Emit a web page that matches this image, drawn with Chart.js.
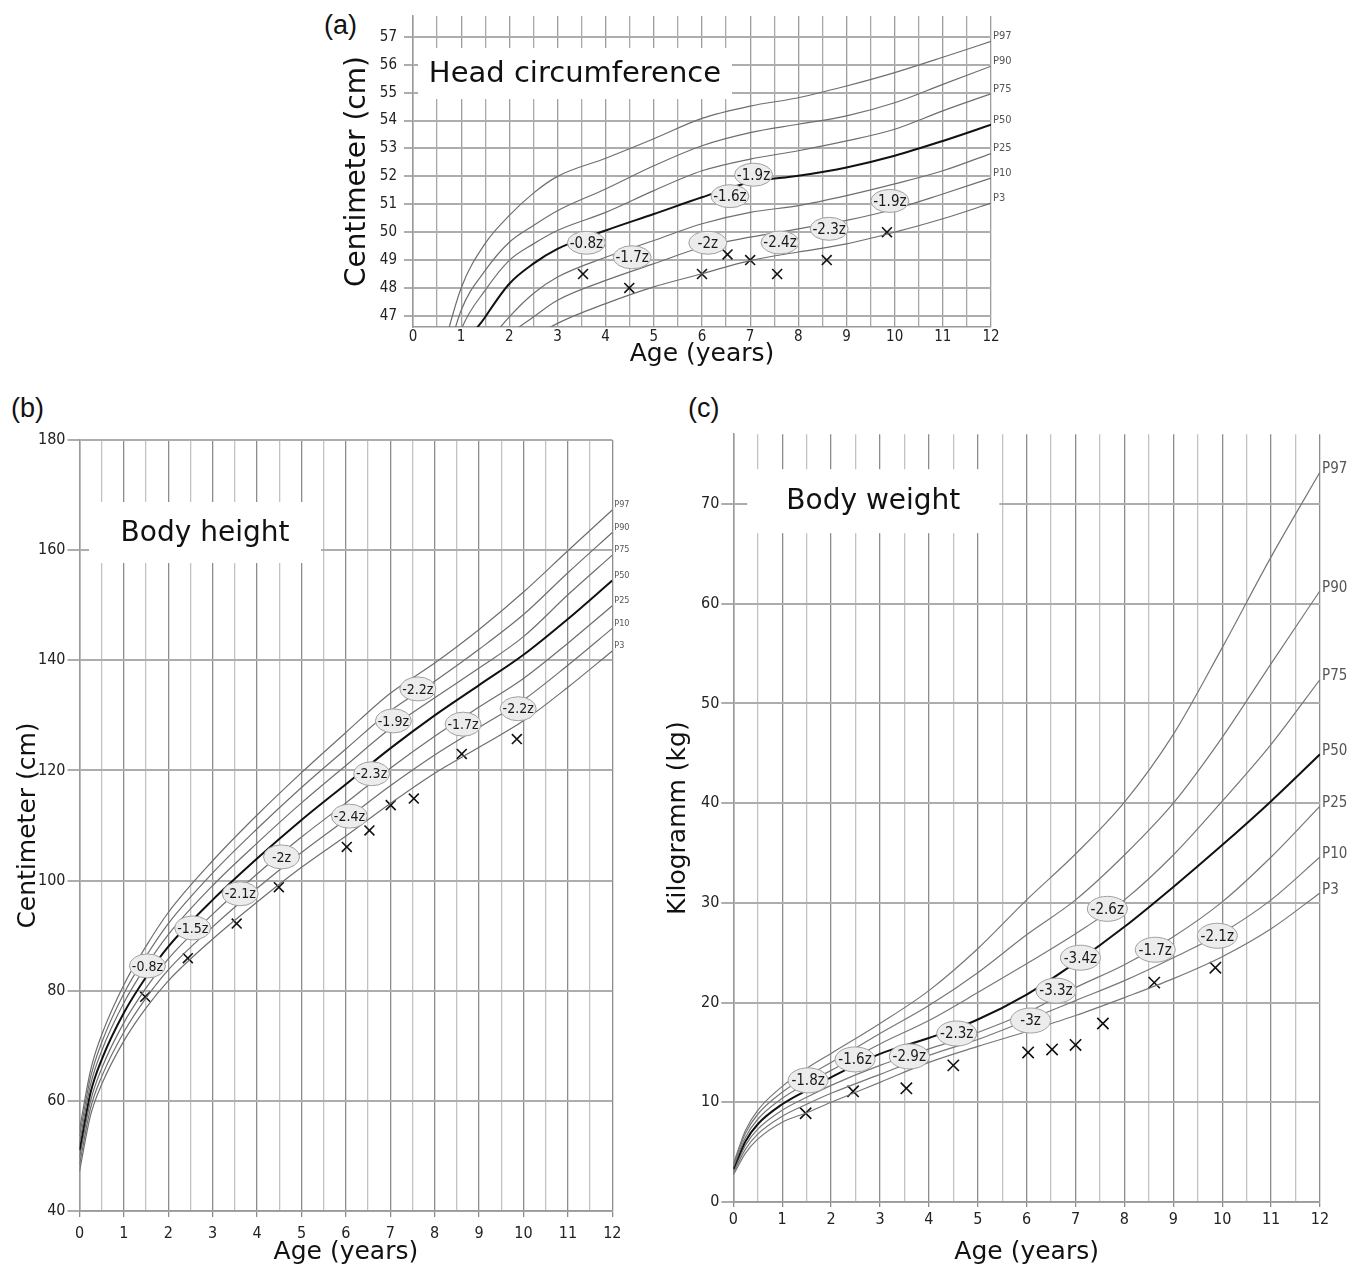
<!DOCTYPE html>
<html>
<head>
<meta charset="utf-8">
<script src="https://cdn.jsdelivr.net/npm/chart.js@4.4.0/dist/chart.umd.min.js"></script>
<style>
  body { margin: 0; background: #fff; width: 1360px; height: 1267px; position: relative; overflow: hidden; }
  .panel { position: absolute; }
  .tag { position: absolute; font: 27px "Liberation Sans", Arial, sans-serif; color: #111; line-height: 30px; }
</style>
</head>
<body>
<div class="tag" style="left:324px;top:10px">(a)</div>
<div class="tag" style="left:11px;top:393px">(b)</div>
<div class="tag" style="left:688px;top:393px">(c)</div>

<div class="panel" style="left:330px;top:0px"><canvas id="head" width="700" height="372"></canvas></div>
<div class="panel" style="left:0px;top:395px"><canvas id="height" width="660" height="872"></canvas></div>
<div class="panel" style="left:655px;top:395px"><canvas id="weight" width="705" height="872"></canvas></div>

<script>
const pctNames = ['P97', 'P90', 'P75', 'P50', 'P25', 'P10', 'P3'];
const xTickLabels = [0, 1, 2, 3, 4, 5, 6, 7, 8, 9, 10, 11, 12];

// (a) head circumference, cm
const headAges = [0.5, 1, 1.5, 2, 2.5, 3, 4, 5, 6, 7, 8, 9, 10, 11, 12];
const headP97 = [45.0, 48.0, 49.6, 50.6, 51.4, 52.0, 52.65, 53.35, 54.08, 54.52, 54.82, 55.24, 55.72, 56.27, 56.84];
const headP90 = [44.2, 47.2, 48.63, 49.64, 50.24, 50.77, 51.55, 52.38, 53.1, 53.57, 53.87, 54.17, 54.64, 55.3, 55.95];
const headP75 = [43.5, 46.5, 47.92, 48.99, 49.58, 50.06, 50.71, 51.49, 52.2, 52.62, 52.92, 53.27, 53.69, 54.35, 54.96];
const headP50 = [42.6, 45.6, 46.96, 48.15, 48.87, 49.4, 50.06, 50.65, 51.25, 51.79, 52.02, 52.32, 52.74, 53.27, 53.85];
const headP25 = [41.8, 44.5, 45.9, 46.96, 47.8, 48.39, 49.1, 49.7, 50.3, 50.71, 50.95, 51.31, 51.73, 52.2, 52.82];
const headP10 = [41.0, 43.8, 45.2, 46.3, 46.96, 47.56, 48.27, 48.87, 49.46, 49.82, 50.12, 50.42, 50.83, 51.37, 51.94];
const headP3 = [40.3, 43.0, 44.4, 45.5, 46.2, 46.73, 47.44, 48.04, 48.51, 48.98, 49.29, 49.58, 50.0, 50.48, 51.04];
const headYTicks = [47, 48, 49, 50, 51, 52, 53, 54, 55, 56, 57];
const headPatientAges = [3.53, 4.49, 6.0, 6.53, 7.0, 7.56, 8.59, 9.84];
const headPatientValues = [48.5, 48.0, 48.5, 49.2, 49.0, 48.5, 49.0, 50.0];
const headZAges = [3.6, 4.55, 6.12, 6.58, 7.07, 7.62, 8.64, 9.9];
const headZValues = [49.62, 49.1, 49.62, 51.29, 52.06, 49.63, 50.12, 51.12];
const headZText = ['-0.8z', '-1.7z', '-2z', '-1.6z', '-1.9z', '-2.4z', '-2.3z', '-1.9z'];

// (b) body height, cm
const heightAges = [0, 0.25, 0.5, 1, 1.5, 2, 3, 4, 5, 6, 7, 8, 9, 10, 11, 12];
const heightP97 = [54.8, 65.6, 72.0, 81.1, 88.1, 94.2, 103.6, 111.9, 119.6, 126.9, 134.0, 139.5, 145.6, 152.4, 159.9, 167.3];
const heightP90 = [53.6, 64.3, 70.6, 79.5, 86.3, 92.2, 101.4, 109.4, 116.9, 123.9, 130.8, 136.2, 142.0, 148.3, 155.9, 163.2];
const heightP75 = [52.3, 63.0, 69.1, 77.8, 84.5, 90.2, 99.1, 106.8, 114.1, 120.9, 127.6, 133.2, 138.6, 144.3, 151.9, 159.1];
const heightP50 = [51.0, 61.5, 67.5, 76.0, 82.5, 88.0, 96.5, 104.0, 111.0, 117.5, 124.0, 130.0, 135.5, 141.0, 147.5, 154.5];
const heightP25 = [49.7, 60.0, 65.9, 74.2, 80.5, 85.8, 93.9, 101.2, 107.9, 114.1, 120.4, 126.2, 131.5, 136.7, 143.1, 149.9];
const heightP10 = [48.4, 58.7, 64.4, 72.5, 78.7, 83.8, 91.6, 98.6, 105.1, 111.1, 117.2, 122.8, 127.8, 132.8, 139.1, 145.8];
const heightP3 = [47.2, 57.4, 63.0, 70.9, 76.9, 81.8, 89.4, 96.1, 102.4, 108.1, 114.0, 119.5, 124.2, 129.0, 135.1, 141.7];
const heightYTicks = [40, 60, 80, 100, 120, 140, 160, 180];
const heightPatientAges = [1.48, 2.44, 3.54, 4.49, 6.02, 6.53, 7.01, 7.53, 8.61, 9.85];
const heightPatientValues = [78.9, 85.9, 92.2, 98.8, 106.1, 109.1, 113.7, 114.9, 123.0, 125.7];
const heightZAges = [1.53, 2.55, 3.62, 4.55, 6.08, 6.58, 7.07, 7.62, 8.64, 9.88];
const heightZValues = [84.5, 91.4, 97.6, 104.3, 111.7, 119.4, 129.0, 134.8, 128.4, 131.2];
const heightZText = ['-0.8z', '-1.5z', '-2.1z', '-2z', '-2.4z', '-2.3z', '-1.9z', '-2.2z', '-1.7z', '-2.2z'];

// (c) body weight, kg
const weightAges = [0, 0.25, 0.5, 1, 1.5, 2, 3, 4, 5, 6, 7, 8, 9, 10, 11, 12];
const weightP97 = [3.8, 7.2, 9.2, 11.6, 13.4, 14.9, 17.9, 21.2, 25.4, 30.3, 34.9, 40.1, 46.9, 55.6, 64.7, 73.2];
const weightP90 = [3.7, 6.9, 8.8, 11.0, 12.6, 14.0, 16.9, 19.7, 23.0, 26.8, 30.3, 34.8, 40.0, 46.6, 54.0, 61.3];
const weightP75 = [3.5, 6.5, 8.3, 10.4, 11.9, 13.2, 15.85, 18.2, 21.0, 23.9, 26.9, 30.3, 34.8, 40.2, 45.9, 52.4];
const weightP50 = [3.3, 6.1, 7.8, 9.8, 11.2, 12.5, 14.85, 16.45, 18.3, 20.8, 24.0, 27.6, 31.6, 35.8, 40.2, 44.9];
const weightP25 = [3.1, 5.7, 7.3, 9.2, 10.5, 11.7, 13.7, 15.35, 17.0, 19.0, 21.5, 23.8, 26.6, 30.1, 34.6, 39.7];
const weightP10 = [2.9, 5.3, 6.8, 8.6, 9.8, 10.9, 12.8, 14.7, 16.3, 18.2, 20.2, 22.2, 24.5, 27.0, 30.3, 34.6];
const weightP3 = [2.7, 4.9, 6.3, 8.0, 8.95, 10.0, 12.0, 14.0, 15.6, 17.1, 18.7, 20.5, 22.4, 24.6, 27.4, 31.0];
const weightYTicks = [0, 10, 20, 30, 40, 50, 60, 70];
const weightPatientAges = [1.48, 2.45, 3.54, 4.5, 6.03, 6.52, 7.0, 7.56, 8.61, 9.86];
const weightPatientValues = [8.9, 11.1, 11.4, 13.7, 15.0, 15.3, 15.75, 17.9, 22.0, 23.5];
const weightZAges = [1.53, 2.49, 3.6, 4.57, 6.08, 6.6, 7.1, 7.65, 8.63, 9.9];
const weightZValues = [12.2, 14.3, 14.6, 16.9, 18.2, 21.2, 24.5, 29.4, 25.3, 26.7];
const weightZText = ['-1.8z', '-1.6z', '-2.9z', '-2.3z', '-3z', '-3.3z', '-3.4z', '-2.6z', '-1.7z', '-2.1z'];

const tickFont = '"DejaVu Sans Condensed", "DejaVu Sans", sans-serif';
const titleFont = '"DejaVu Sans", Verdana, sans-serif';
const narrowFont = '"Liberation Sans Narrow", "Arial Narrow", "DejaVu Sans Condensed", sans-serif';

function makeOverlay(cfg) {
  return {
    id: 'overlay',
    afterDatasetsDraw(chart) {
      const { ctx, chartArea: ca, scales: { x, y } } = chart;
      ctx.save();
      // white box with the panel title
      const [bx, by, bw, bh] = cfg.box;
      ctx.fillStyle = '#fff';
      ctx.fillRect(ca.left + bx, ca.top + by, bw, bh);
      ctx.fillStyle = '#111';
      ctx.font = cfg.titleSize + 'px ' + titleFont;
      ctx.textAlign = 'center';
      ctx.textBaseline = 'middle';
      ctx.fillText(cfg.title, ca.left + bx + bw / 2, ca.top + by + bh / 2 + 1);

      // z-score bubbles
      ctx.font = cfg.zSize + 'px ' + narrowFont;
      cfg.zAges.forEach((a, i) => {
        const px = x.getPixelForValue(a), py = y.getPixelForValue(cfg.zValues[i]);
        ctx.beginPath();
        ctx.ellipse(px, py, cfg.rx, cfg.ry, 0, 0, Math.PI * 2);
        ctx.fillStyle = '#ececec';
        ctx.fill();
        ctx.lineWidth = 1;
        ctx.strokeStyle = '#a0a0a0';
        ctx.stroke();
        ctx.fillStyle = '#1a1a1a';
        ctx.fillText(cfg.zText[i], px, py + 1);
      });

      // percentile names at the right end
      ctx.font = cfg.pSize + 'px ' + tickFont;
      ctx.fillStyle = '#555';
      ctx.textAlign = 'left';
      chart.data.datasets.forEach((ds, i) => {
        if (i >= pctNames.length) return;
        const last = ds.data[ds.data.length - 1];
        ctx.fillText(ds.label, ca.right + 2, y.getPixelForValue(last.y) + cfg.pDy);
      });
      ctx.restore();
    }
  };
}

function drawPanel(id, cfg) {
  const datasets = cfg.series.map((vals, i) => ({
    label: pctNames[i],
    data: cfg.ages.map((a, j) => ({ x: a, y: vals[j] })),
    borderColor: i === 3 ? '#111' : cfg.lineColor,
    borderWidth: i === 3 ? 2 : 1.2,
    pointRadius: 0,
    cubicInterpolationMode: 'monotone',
    fill: false
  }));
  datasets.push({
    label: 'patient',
    data: cfg.pAges.map((a, j) => ({ x: a, y: cfg.pValues[j] })),
    showLine: false,
    pointStyle: 'crossRot',
    pointRadius: cfg.xr,
    borderColor: '#111',
    borderWidth: 1.6,
    backgroundColor: 'transparent'
  });

  return new Chart(document.getElementById(id), {
    type: 'line',
    data: { datasets },
    options: {
      responsive: false,
      animation: false,
      events: [],
      layout: { padding: cfg.pad },
      plugins: { legend: { display: false }, tooltip: { enabled: false } },
      scales: {
        x: {
          type: 'linear',
          min: 0,
          max: 12,
          afterFit: s => { s.height = cfg.xh; },
          afterBuildTicks: s => {
            const t = [];
            for (let v = 0; v <= 12; v += 0.5) t.push({ value: v });
            s.ticks = t;
          },
          ticks: {
            autoSkip: false,
            maxRotation: 0,
            padding: cfg.xPad,
            color: '#222',
            font: { family: tickFont, size: cfg.tickSize },
            callback: v => xTickLabels.includes(v) ? String(v) : ''
          },
          grid: {
            color: c => (c.tick && c.tick.value % 1) ? cfg.halfGrid : cfg.fullGrid,
            lineWidth: 1.3,
            drawTicks: cfg.xTickLen > 0,
            tickLength: cfg.xTickLen,
            tickColor: c => (c.tick && c.tick.value % 1) ? 'rgba(0,0,0,0)' : cfg.fullGrid
          },
          border: { color: '#9a9a9a', width: 1.5 },
          title: {
            display: true,
            text: 'Age (years)',
            color: '#111',
            font: { family: titleFont, size: 25 },
            padding: { top: 0, bottom: cfg.xTitlePad }
          }
        },
        y: {
          type: 'linear',
          min: cfg.yMin,
          max: cfg.yMax,
          afterFit: s => { s.width = cfg.yw; },
          afterBuildTicks: s => { s.ticks = cfg.yTicks.map(v => ({ value: v })); },
          ticks: {
            padding: cfg.yPad,
            color: '#222',
            font: { family: tickFont, size: cfg.tickSize }
          },
          grid: { color: '#adadad', lineWidth: 2, tickLength: cfg.yTickLen },
          border: { color: '#9a9a9a', width: 1.5 },
          title: {
            display: true,
            text: cfg.yTitle,
            color: '#111',
            font: { family: titleFont, size: cfg.yTitleSize },
            padding: { top: cfg.yTitlePad, bottom: 0 }
          }
        }
      }
    },
    plugins: [makeOverlay(cfg)]
  });
}

drawPanel('head', {
  ages: headAges,
  series: [headP97, headP90, headP75, headP50, headP25, headP10, headP3],
  pAges: headPatientAges, pValues: headPatientValues,
  zAges: headZAges, zValues: headZValues, zText: headZText,
  yTicks: headYTicks, yMin: 46.6, yMax: 57.75,
  yTitle: 'Centimeter (cm)', yTitleSize: 28, yTitlePad: 3,
  pad: { left: 8, top: 15, right: 39, bottom: 0 },
  yw: 75, xh: 45,
  tickSize: 15, xPad: 1, xTickLen: 0, yPad: 7, yTickLen: 9, xTitlePad: 3,
  fullGrid: '#9c9c9c', halfGrid: '#a8a8a8', lineColor: '#6e6e6e',
  xr: 7,
  box: [5, 32, 314, 51], title: 'Head circumference', titleSize: 29,
  rx: 19, ry: 11.5, zSize: 15, pSize: 11, pDy: -5
});

drawPanel('height', {
  ages: heightAges,
  series: [heightP97, heightP90, heightP75, heightP50, heightP25, heightP10, heightP3],
  pAges: heightPatientAges, pValues: heightPatientValues,
  zAges: heightZAges, zValues: heightZValues, zText: heightZText,
  yTicks: heightYTicks, yMin: 40, yMax: 180,
  yTitle: 'Centimeter (cm)', yTitleSize: 25, yTitlePad: 6,
  pad: { left: 7, top: 45, right: 47.7, bottom: 0 },
  yw: 72.5, xh: 56,
  tickSize: 16, xPad: 7, xTickLen: 6, yPad: 2, yTickLen: 12, xTitlePad: 0,
  fullGrid: '#8c8c8c', halfGrid: '#c2c2c2', lineColor: '#6e6e6e',
  xr: 7,
  box: [9.5, 62, 232, 61], title: 'Body height', titleSize: 28,
  rx: 18, ry: 12, zSize: 14, pSize: 9, pDy: -5
});

drawPanel('weight', {
  ages: weightAges,
  series: [weightP97, weightP90, weightP75, weightP50, weightP25, weightP10, weightP3],
  pAges: weightPatientAges, pValues: weightPatientValues,
  zAges: weightZAges, zValues: weightZValues, zText: weightZText,
  yTicks: weightYTicks, yMin: 0, yMax: 77,
  yTitle: 'Kilogramm (kg)', yTitleSize: 25, yTitlePad: 6,
  pad: { left: 2, top: 39.2, right: 40, bottom: 0 },
  yw: 76.3, xh: 65,
  tickSize: 16, xPad: 3, xTickLen: 5, yPad: 2, yTickLen: 12, xTitlePad: 0,
  fullGrid: '#8c8c8c', halfGrid: '#c2c2c2', lineColor: '#777',
  xr: 8,
  box: [14, 35, 252, 64], title: 'Body weight', titleSize: 28,
  rx: 20, ry: 12.5, zSize: 15, pSize: 15, pDy: -3
});
</script>
</body>
</html>
